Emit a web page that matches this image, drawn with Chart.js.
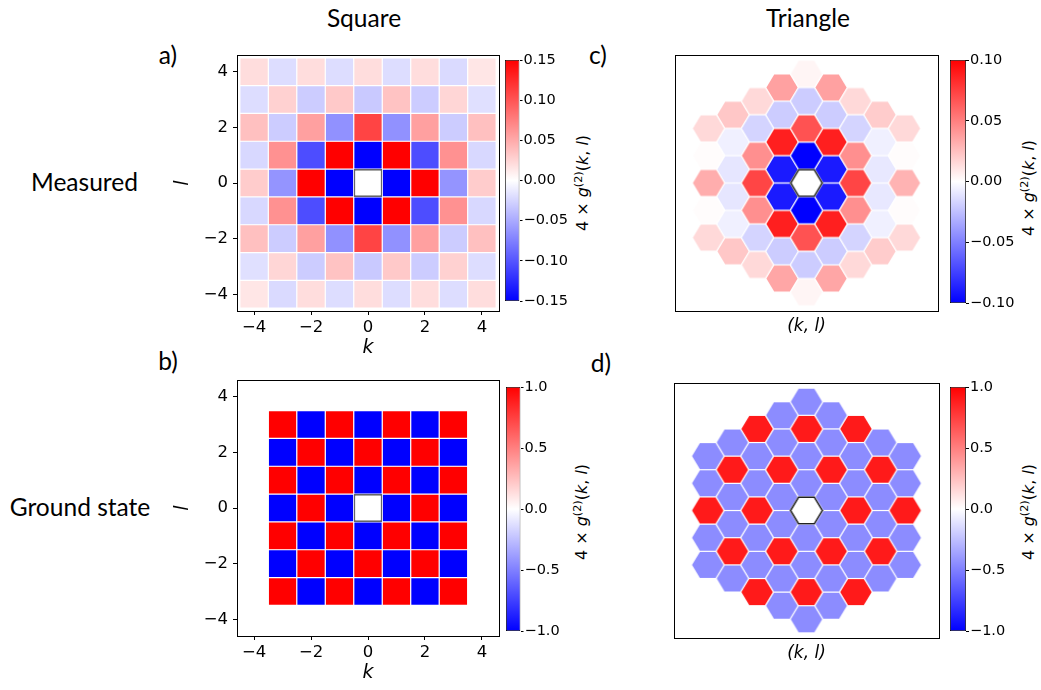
<!DOCTYPE html>
<html>
<head>
<meta charset="utf-8">
<script src="https://cdn.jsdelivr.net/npm/chart.js@4.4.1/dist/chart.umd.min.js"></script>
<style>
html,body{margin:0;padding:0;background:#fff;}
body{position:relative;width:1041px;height:690px;overflow:hidden;}
canvas{position:absolute;}
.lbl{position:absolute;transform:translate(-50%,-50%);font-family:Lato,'Open Sans',sans-serif;color:#000;white-space:nowrap;line-height:1;font-size:26px;}
.cbt{position:absolute;transform:translate(-50%,-50%) rotate(-90deg);font-family:'DejaVu Sans';font-size:16px;white-space:nowrap;line-height:1;color:#000;}
.cbt sup{font-size:70%;vertical-align:0.5em;line-height:0;}
</style>
</head>
<body>
<div class="lbl fit" style="left:364px;top:18px">Square</div>
<div class="lbl fit" style="left:808px;top:18px">Triangle</div>
<div class="lbl fit" style="left:168px;top:55px">a)</div>
<div class="lbl fit" style="left:168px;top:361px">b)</div>
<div class="lbl fit" style="left:598px;top:55px">c)</div>
<div class="lbl fit" style="left:601px;top:363px">d)</div>
<div class="lbl fit" style="left:84.5px;top:182px">Measured</div>
<div class="lbl fit" style="left:80px;top:507px">Ground state</div>
<div class="cbt" style="left:583px;top:183px">4 × <i>g</i><sup>(2)</sup>(<i>k</i>, <i>l</i>)</div>
<div class="cbt" style="left:582px;top:512px">4 × <i>g</i><sup>(2)</sup>(<i>k</i>, <i>l</i>)</div>
<div class="cbt" style="left:1029px;top:188px">4 × <i>g</i><sup>(2)</sup>(<i>k</i>, <i>l</i>)</div>
<div class="cbt" style="left:1029px;top:512px">4 × <i>g</i><sup>(2)</sup>(<i>k</i>, <i>l</i>)</div>
<script>
// ---------------- DATA ----------------
// Square lattice, measured (rows l = 4 ... -4, columns k = -4 ... 4); null = origin site
const squareK = [-4, -3, -2, -1, 0, 1, 2, 3, 4];
const squareL = [4, 3, 2, 1, 0, -1, -2, -3, -4];
const measuredSquare = [
  [0.020, -0.020, 0.020, -0.020, 0.020, -0.020, 0.020, -0.022, 0.015],
  [-0.020, 0.027, -0.030, 0.032, -0.032, 0.035, -0.030, 0.024, -0.018],
  [0.037, -0.030, 0.056, -0.065, 0.110, -0.065, 0.056, -0.030, 0.037],
  [-0.023, 0.065, -0.105, 0.150, -0.150, 0.150, -0.105, 0.065, -0.023],
  [0.030, -0.063, 0.150, -0.150, null, -0.150, 0.150, -0.063, 0.030],
  [-0.023, 0.065, -0.105, 0.150, -0.150, 0.150, -0.105, 0.065, -0.023],
  [0.037, -0.030, 0.056, -0.065, 0.110, -0.065, 0.056, -0.030, 0.037],
  [-0.018, 0.024, -0.030, 0.035, -0.032, 0.032, -0.030, 0.027, -0.020],
  [0.015, -0.022, 0.020, -0.020, 0.020, -0.020, 0.020, -0.020, 0.020]
];
// Square lattice, ground state (rows l = 3 ... -3, columns k = -3 ... 3)
const groundK = [-3, -2, -1, 0, 1, 2, 3];
const groundL = [3, 2, 1, 0, -1, -2, -3];
const groundSquare = [
  [1, -1, 1, -1, 1, -1, 1],
  [-1, 1, -1, 1, -1, 1, -1],
  [1, -1, 1, -1, 1, -1, 1],
  [-1, 1, -1, null, -1, 1, -1],
  [1, -1, 1, -1, 1, -1, 1],
  [-1, 1, -1, 1, -1, 1, -1],
  [1, -1, 1, -1, 1, -1, 1]
];
// Triangular lattice: columns k = -4 ... 4, each listed from its top site l = triTopL down
const triK = [-4, -3, -2, -1, 0, 1, 2, 3, 4];
const triTopL = [4, 4, 4, 4, 4, 3, 2, 1, 0];
const measuredTri = [
  [0.015, 0.001, 0.032, 0.001, 0.015],
  [0.022, -0.006, -0.010, -0.010, -0.006, 0.022],
  [0.015, -0.017, 0.044, 0.073, 0.044, -0.017, 0.015],
  [0.037, -0.020, 0.088, -0.090, -0.090, 0.088, -0.020, 0.035],
  [0.004, -0.020, 0.068, -0.100, null, -0.100, 0.068, -0.020, 0.004],
  [0.037, -0.020, 0.088, -0.090, -0.090, 0.088, -0.020, 0.035],
  [0.015, -0.017, 0.044, 0.073, 0.044, -0.017, 0.015],
  [0.020, -0.006, -0.009, -0.009, -0.006, 0.020],
  [0.015, 0.001, 0.030, 0.001, 0.015]
];
const groundTri = [
  [-0.45, -0.45, 0.9, -0.45, -0.45],
  [-0.45, 0.9, -0.45, -0.45, 0.9, -0.45],
  [0.9, -0.45, -0.45, 0.9, -0.45, -0.45, 0.9],
  [-0.45, -0.45, 0.9, -0.45, -0.45, 0.9, -0.45, -0.45],
  [-0.45, 0.9, -0.45, -0.45, null, -0.45, -0.45, 0.9, -0.45],
  [-0.45, -0.45, 0.9, -0.45, -0.45, 0.9, -0.45, -0.45],
  [0.9, -0.45, -0.45, 0.9, -0.45, -0.45, 0.9],
  [-0.45, 0.9, -0.45, -0.45, 0.9, -0.45],
  [-0.45, -0.45, 0.9, -0.45, -0.45]
];
// Tick labels
const axisTicks = [-4, -2, 0, 2, 4];
const cbTicksA = [-0.15, -0.10, -0.05, 0, 0.05, 0.10, 0.15];
const cbTicksB = [-1, -0.5, 0, 0.5, 1];
const cbTicksC = [-0.10, -0.05, 0, 0.05, 0.10];
const cbTicksD = [-1, -0.5, 0, 0.5, 1];

// ---------------- HELPERS ----------------
const SQ3 = Math.sqrt(3);
Chart.defaults.font.family = 'DejaVu Sans';
Chart.defaults.color = '#000';

function bwr(v, vmax) {
  let t = (v + vmax) / (2 * vmax);
  t = Math.max(0, Math.min(1, t));
  let r, g, b;
  if (t < 0.5) { r = g = Math.round(510 * t); b = 255; }
  else { r = 255; g = b = Math.round(255 * (2 - 2 * t)); }
  return 'rgb(' + r + ',' + g + ',' + b + ')';
}
function fmt(v, d) {
  if (Math.abs(v) < 1e-9) v = 0;
  const s = d == null ? String(v) : Number(v).toFixed(d);
  return s.replace('-', '\u2212');
}
function addCanvas(left, top, w, h) {
  const c = document.createElement('canvas');
  c.width = w; c.height = h;
  c.style.left = left + 'px'; c.style.top = top + 'px';
  c.style.width = w + 'px'; c.style.height = h + 'px';
  document.body.appendChild(c);
  return c;
}
const common = {
  responsive: false, animation: false, events: [], devicePixelRatio: 1,
  plugins: { legend: { display: false }, tooltip: { enabled: false } }
};
function frameAxis(pos, min, max, size) {
  return {
    type: 'linear', position: pos, min, max, offset: false,
    ticks: { display: false },
    grid: { display: false, drawTicks: false },
    border: { display: true, color: '#000', width: 1 },
    afterFit: s => { if (s.isHorizontal()) s.height = size; else s.width = size; }
  };
}
function tickAxis(pos, min, max, size, title) {
  const horiz = pos === 'bottom';
  return {
    type: 'linear', position: pos, min, max, offset: false,
    afterBuildTicks: s => { s.ticks = axisTicks.map(v => ({ value: v })); },
    afterFit: s => { if (horiz) s.height = size; else s.width = size; },
    ticks: { font: { family: 'DejaVu Sans', size: 16.5 }, color: '#000', padding: horiz ? 3 : 5,
             maxRotation: 0, minRotation: 0, autoSkip: false, callback: v => fmt(v) },
    grid: { display: true, drawOnChartArea: false, drawTicks: true, tickLength: 4,
            tickColor: '#000', tickWidth: 1, offset: false },
    border: { display: true, color: '#000', width: 1 },
    title: { display: true, text: title, color: '#000',
             font: { family: 'DejaVu Sans', size: 19, style: 'italic' }, padding: { top: 0, bottom: 4 } }
  };
}

// ---------------- SQUARE HEATMAPS ----------------
function makeSquare(left, top, w, h, ks, ls, matrix, vmax) {
  const cv = addCanvas(left, top, w, h);
  const datasets = [];
  ls.forEach((l, i) => {
    const data = [], colors = [];
    ks.forEach((k, j) => {
      const v = matrix[i][j];
      if (v === null) {
        datasets.push({ data: [{ x: k, y: [l - 0.5, l + 0.5] }], backgroundColor: '#fff',
                        borderColor: '#666', borderWidth: 1.6, order: -1 });
        return;
      }
      data.push({ x: k, y: [l - 0.5, l + 0.5] });
      colors.push(bwr(v, vmax));
    });
    datasets.push({ data, backgroundColor: colors, borderColor: '#fff', borderWidth: 0.6 });
  });
  new Chart(cv, {
    type: 'bar',
    data: { datasets },
    options: Object.assign({}, common, {
      layout: { padding: { top: 20, left: 0, right: 11, bottom: 0 } },
      datasets: { bar: { grouped: false, barPercentage: 1, categoryPercentage: 1,
                         borderSkipped: false, inflateAmount: 0 } },
      scales: {
        x: tickAxis('bottom', -4.6, 4.6, 52, 'k'),
        y: tickAxis('left', -4.6, 4.6, 65, 'l'),
        x2: frameAxis('top', -4.6, 4.6, 0),
        y2: frameAxis('right', -4.6, 4.6, 0)
      }
    })
  });
}

// ---------------- HEXAGON HEATMAPS ----------------
const hexCache = {};
function hexImage(fill, stroke, SX, SY, lw) {
  const key = [fill, stroke, SX.toFixed(2), SY.toFixed(2), lw].join('|');
  if (hexCache[key]) return hexCache[key];
  const w = Math.ceil(2 * SX) + 6, h = Math.ceil(SQ3 * SY) + 6;
  const c = document.createElement('canvas');
  c.width = w; c.height = h;
  const g = c.getContext('2d');
  const cx = w / 2, cy = h / 2;
  g.beginPath();
  for (let i = 0; i < 6; i++) {
    const a = Math.PI / 3 * i;
    const px = cx + Math.cos(a) * SX, py = cy - Math.sin(a) * SY;
    if (i === 0) g.moveTo(px, py); else g.lineTo(px, py);
  }
  g.closePath();
  g.fillStyle = fill; g.fill();
  if (stroke) { g.lineWidth = lw; g.strokeStyle = stroke; g.stroke(); }
  hexCache[key] = c;
  return c;
}
function hexStyle(ctx, vmax) {
  if (!ctx.raw) return 'circle';
  const xs = ctx.chart.scales.x, ys = ctx.chart.scales.y;
  const px = Math.abs(xs.getPixelForValue(1) - xs.getPixelForValue(0));
  const py = Math.abs(ys.getPixelForValue(1) - ys.getPixelForValue(0));
  const v = ctx.raw.v;
  if (v === null) return hexImage('#fff', '#222', px * 0.97, py * 0.97, 1.6);
  const f = 1 - 0.65 / (0.866 * px);
  return hexImage(bwr(v, vmax), null, px * f, py * f, 0);
}
function makeHex(left, top, w, h, values, vmax) {
  const cv = addCanvas(left, top, w, h);
  const data = [];
  triK.forEach((k, ci) => values[ci].forEach((v, ri) => {
    const l = triTopL[ci] - ri;
    data.push({ x: 1.5 * k, y: SQ3 * (l + k / 2), v });
  }));
  new Chart(cv, {
    type: 'scatter',
    data: { datasets: [{ data, pointStyle: ctx => hexStyle(ctx, vmax), pointRadius: 2,
                         pointHoverRadius: 2, pointBorderWidth: 0, pointBackgroundColor: 'rgba(0,0,0,0)' }] },
    options: Object.assign({}, common, {
      layout: { padding: { top: 20, left: 20, right: 20, bottom: 0 } },
      scales: {
        x: Object.assign(frameAxis('bottom', -8.05, 8.05, 30), {
          title: { display: true, text: '(k, l)', color: '#000',
                   font: { family: 'DejaVu Sans', size: 17, style: 'italic' }, padding: { top: 0, bottom: 4 } }
        }),
        y: frameAxis('left', -8.12, 8.12, 0),
        x2: frameAxis('top', -8.05, 8.05, 0),
        y2: frameAxis('right', -8.12, 8.12, 0)
      }
    })
  });
}

// ---------------- COLORBARS ----------------
function makeColorbar(left, top, w, h, barW, lo, hi, ticks, dec) {
  const cv = addCanvas(left, top, w, h);
  new Chart(cv, {
    type: 'bar',
    data: { labels: [''], datasets: [{
      data: [[lo, hi]],
      backgroundColor: ctx => {
        const area = ctx.chart.chartArea;
        if (!area) return '#fff';
        const g = ctx.chart.ctx.createLinearGradient(0, area.bottom, 0, area.top);
        g.addColorStop(0, 'rgb(0,0,255)');
        g.addColorStop(0.5, 'rgb(255,255,255)');
        g.addColorStop(1, 'rgb(255,0,0)');
        return g;
      },
      borderColor: '#000', borderWidth: 0.8, borderSkipped: false,
      barPercentage: 1, categoryPercentage: 1, inflateAmount: 0
    }] },
    options: Object.assign({}, common, {
      layout: { padding: { top: 20, left: 20, right: 0, bottom: 20 } },
      scales: {
        x: { display: false },
        y: {
          position: 'right', min: lo, max: hi,
          afterBuildTicks: s => { s.ticks = ticks.map(v => ({ value: v })); },
          afterFit: s => { s.width = w - 20 - barW; },
          ticks: { font: { family: 'DejaVu Sans', size: 14.5 }, color: '#000', padding: 1,
                   autoSkip: false, callback: v => fmt(v, dec) },
          grid: { display: true, drawOnChartArea: false, drawTicks: true, tickLength: 3,
                  tickColor: '#000', tickWidth: 1 },
          border: { display: false }
        }
      }
    })
  });
}

// ---------------- BUILD ----------------
makeSquare(172, 35, 338, 328, squareK, squareL, measuredSquare, 0.15);
makeSquare(172, 360, 338, 328, groundK, groundL, groundSquare, 1.0);
makeHex(655, 35, 303, 306, measuredTri, 0.10);
makeHex(654, 363, 305, 305, groundTri, 1.0);
makeColorbar(485, 40, 90, 281, 14.5, -0.15, 0.15, cbTicksA, 2);
makeColorbar(486, 367, 90, 284, 14.5, -1, 1, cbTicksB, 1);
makeColorbar(930, 40, 91, 283, 16, -0.10, 0.10, cbTicksC, 2);
makeColorbar(930, 367, 91, 284, 16, -1, 1, cbTicksD, 1);

// fit the panel labels to the reference text widths (Calibri-like 26px)
(function () {
  const m = document.createElement('canvas').getContext('2d');
  m.font = '26px Lato';
  const scale = 107 / m.measureText('Measured').width;
  document.querySelectorAll('.fit').forEach(el => { el.style.fontSize = (26 * scale).toFixed(2) + 'px'; });
})();
</script>
</body>
</html>
